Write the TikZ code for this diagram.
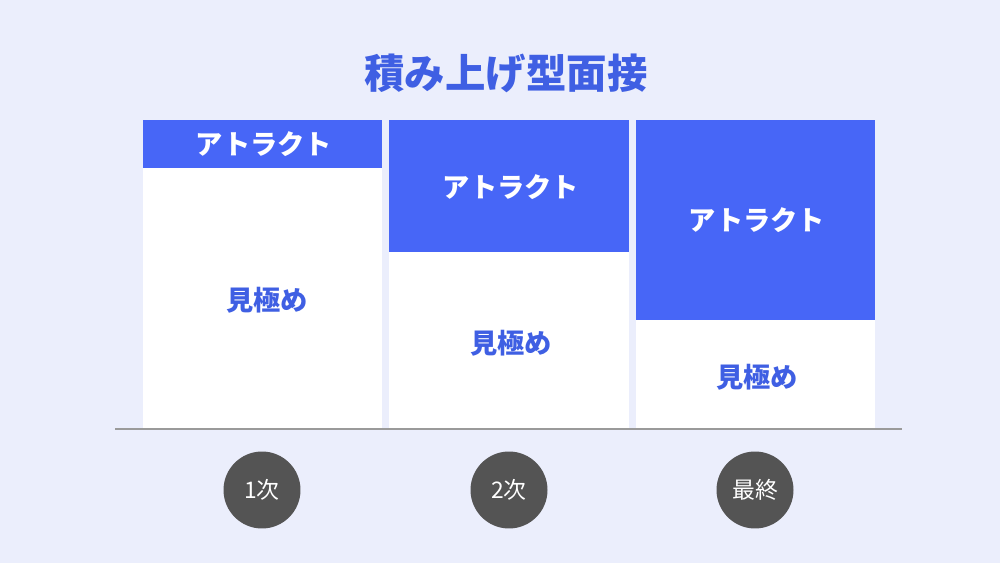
\documentclass[tikz,border=0pt]{standalone}
\usepackage{fontspec}
\setmainfont{Noto Sans CJK JP}
\definecolor{bgc}{HTML}{EBEEFC}
\definecolor{hdr}{HTML}{4766F7}
\definecolor{ttl}{HTML}{3F5FE3}
\definecolor{circ}{HTML}{545454}
\definecolor{basel}{HTML}{9A9A9A}
\tikzset{
  hdrbox/.style={fill=hdr, draw=none},
  whitebox/.style={fill=white, draw=none},
  hdrtext/.style={text=white, font=\fontsize{15.5pt}{18pt}\selectfont\bfseries},
  bodytext/.style={text=ttl, font=\fontsize{15.5pt}{18pt}\selectfont\bfseries},
  roundlabel/.style={circle, fill=circ, minimum size=1.54cm, inner sep=0pt, text=white, font=\fontsize{13pt}{15pt}\selectfont},
}
\begin{document}
\begin{tikzpicture}[x=0.02cm, y=-0.02cm]
\fill[bgc] (0,0) rectangle (1000,563);
\useasboundingbox (0,0) rectangle (1000,563);
\node[text=ttl, font=\fontsize{23pt}{27pt}\selectfont\bfseries] (title) at (506,73) {積み上げ型面接};
% column 1
\fill[whitebox] (143,120) rectangle (382,428);
\fill[hdrbox] (143,120) rectangle (382,168);
\node[hdrtext] (h1) at (264,144) {アトラクト};
\node[bodytext] (b1) at (267,300) {見極め};
% column 2
\fill[whitebox] (389,120) rectangle (629,428);
\fill[hdrbox] (389,120) rectangle (629,252);
\node[hdrtext] (h2) at (511,187) {アトラクト};
\node[bodytext] (b2) at (511,343) {見極め};
% column 3
\fill[whitebox] (636,120) rectangle (875,428);
\fill[hdrbox] (636,120) rectangle (875,320);
\node[hdrtext] (h3) at (757,220) {アトラクト};
\node[bodytext] (b3) at (757,377) {見極め};
% baseline
\coordinate (l1) at (115,429);
\coordinate (l2) at (902,429);
\draw[basel, line width=1.1pt] (l1) -- (l2);
% circles
\node[roundlabel] (c1) at (262,490) {1次};
\node[roundlabel] (c2) at (509,490) {2次};
\node[roundlabel] (c3) at (755,490) {最終};
\end{tikzpicture}
\end{document}
